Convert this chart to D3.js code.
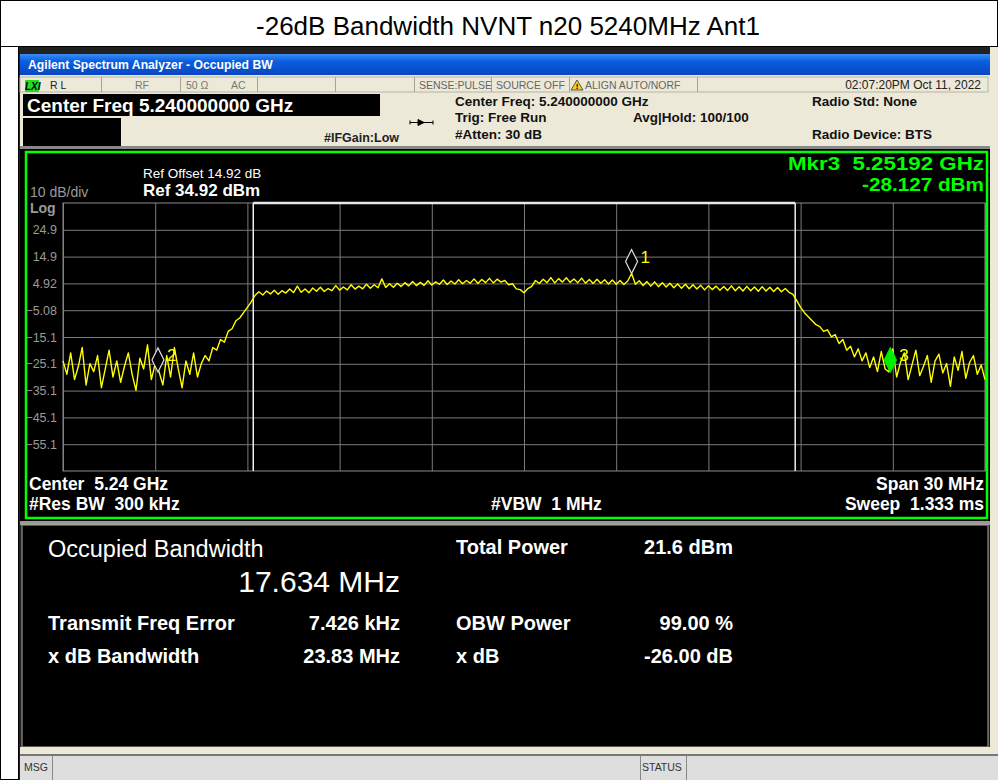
<!DOCTYPE html>
<html>
<head>
<meta charset="utf-8">
<script src="https://cdn.jsdelivr.net/npm/d3@7"></script>
<style>
  body { margin: 0; background: #fff; }
  text { font-family: "Liberation Sans", Arial, sans-serif; }
</style>
</head>
<body>
<svg id="chart" width="998" height="780"></svg>
<script>
const title = "-26dB Bandwidth NVNT n20 5240MHz Ant1";

// sweep settings (GHz / dBm)
const startFreq = 5.225, stopFreq = 5.255;
const refLevel = 34.92, dbPerDiv = 10, nDiv = 10;
const freqTicks = [5.225, 5.228, 5.231, 5.234, 5.237, 5.240, 5.243, 5.246, 5.249, 5.252, 5.255];
const levelTicks = [24.92, 14.92, 4.92, -5.08, -15.08, -25.08, -35.08, -45.08, -55.08];

// trace (dBm), 241 sweep points
const traceDbm = [
  -24, -29, -21, -31, -26, -19, -33, -25, -28, -22, -34, -27, -20, -30, -24, -32, -26, -21, -29, -35,
  -23, -27, -18, -31, -25, -28.1, -33, -22, -30, -19, -27, -34, -24, -29, -21, -30,
  -25, -22, -24, -19, -20, -16, -17, -13, -12, -9, -8, -6, -4, -2,
  0.5, 1.8, 0.6, 2.1, 1.0, 2.4, 0.9, 2.2, 1.3, 2.8,
  1.5, 3.9, 1.6, 2.8, 1.4, 3.2, 2.0, 3.5, 1.9, 3.0,
  2.2, 4.1, 2.4, 3.6, 2.5, 4.4, 2.8, 3.9, 2.9, 4.6,
  3.1, 4.4, 3.3, 6.6, 3.4, 4.8, 3.5, 5.0, 3.8, 5.2,
  4.0, 5.6, 4.1, 5.3, 4.2, 5.9, 4.3, 5.5, 4.6, 6.2,
  4.5, 5.8, 4.7, 6.3, 4.8, 6.0, 5.0, 6.6, 4.9, 6.4,
  5.2, 6.8, 5.1, 6.5, 5.4, 6.0, 4.4, 4.8, 2.9, 2.6,
  1.4, 3.0, 3.8, 6.0, 4.9, 6.5, 5.2, 7.1, 5.1, 6.7,
  5.4, 7.0, 5.3, 6.6, 5.2, 6.9, 5.0, 6.4, 4.9, 6.5,
  5.0, 6.3, 4.7, 6.2, 4.6, 6.0, 4.5, 5.8, 8.6, 4.6,
  5.9, 4.1, 5.6, 3.9, 5.5, 3.7, 5.2, 3.6, 5.0, 3.3,
  4.7, 3.1, 4.6, 2.9, 4.4, 2.8, 4.2, 2.5, 4.0, 2.6,
  3.9, 2.4, 3.8, 2.3, 4.0, 2.2, 3.7, 2.1, 3.8, 2.2,
  3.6, 2.0, 3.7, 2.1, 3.5, 1.9, 3.4, 1.8, 3.0, 1.6,
  0.8, -1.5, -4.0, -6.0, -7.5, -9.0, -10.5, -11.2, -13.0, -12.4,
  -15.0, -14.2, -17.5, -16.0, -20.0, -18.5, -22.5, -19.5, -24.0, -21.0,
  -26.5, -22.5, -28.0, -20.5, -27.0,
  -28.1, -19.5, -30.0, -24.5, -21.0, -31.0, -25.5, -20.0, -29.5, -26.0,
  -22.0, -32.0, -24.0, -21.5, -28.5, -25.0, -33.5, -22.5, -27.5, -20.5,
  -30.5, -24.5, -22.0, -29.0, -25.5, -31.0
];

// markers
const markerIds = ["1", "2", "3"];
const markerFreq = [5.2435, 5.22809, 5.25192];
const markerDbm = [8.6, -28.1, -28.127];
const activeMarker = "3";

// occupied bandwidth edges (GHz)
const obwEdges = [5.231190, 5.248824];

// result table
const resultLeftLabels = ["Transmit Freq Error", "x dB Bandwidth"];
const resultLeftValues = ["7.426 kHz", "23.83 MHz"];
const resultRightLabels = ["Total Power", "OBW Power", "x dB"];
const resultRightValues = ["21.6 dBm", "99.00 %", "-26.00 dB"];

const svg = d3.select("#chart");
const beige = "#ece9d8";

// ---------- page frame + title ----------
svg.append("rect").attr("x", 0.5).attr("y", 0.5).attr("width", 997).attr("height", 779)
  .attr("fill", "#fff").attr("stroke", "#000");
svg.append("line").attr("x1", 0).attr("x2", 998).attr("y1", 46.5).attr("y2", 46.5).attr("stroke", "#000");
svg.append("text").attr("x", 508).attr("y", 35).attr("text-anchor", "middle")
  .attr("font-size", 26).attr("fill", "#000").text(title);
svg.append("line").attr("x1", 18.5).attr("x2", 18.5).attr("y1", 46).attr("y2", 780).attr("stroke", "#000");

// ---------- analyzer window ----------
svg.append("rect").attr("x", 19).attr("y", 47).attr("width", 979).attr("height", 733).attr("fill", "#202020");
const grad = svg.append("defs").append("linearGradient").attr("id", "bar").attr("x1", 0).attr("x2", 0).attr("y1", 0).attr("y2", 1);
grad.append("stop").attr("offset", "0%").attr("stop-color", "#3a8cf5");
grad.append("stop").attr("offset", "35%").attr("stop-color", "#0a5fe0");
grad.append("stop").attr("offset", "100%").attr("stop-color", "#0845c0");
svg.append("rect").attr("x", 20).attr("y", 54).attr("width", 970).attr("height", 21).attr("fill", "url(#bar)");
svg.append("text").attr("x", 28).attr("y", 69).attr("font-size", 12.2).attr("font-weight", "bold")
  .attr("fill", "#fff").text("Agilent Spectrum Analyzer - Occupied BW");

svg.append("rect").attr("x", 20).attr("y", 75).attr("width", 970).attr("height", 73).attr("fill", beige);

// status row
const row1 = svg.append("g");
row1.append("rect").attr("x", 20).attr("y", 77).attr("width", 968).attr("height", 15).attr("fill", beige)
  .attr("stroke", "#b8b4a4");
[101, 180, 257, 335, 414, 491, 569, 697].forEach(x => {
  row1.append("line").attr("x1", x + 0.5).attr("x2", x + 0.5).attr("y1", 77).attr("y2", 92).attr("stroke", "#a8a494");
});
row1.append("rect").attr("x", 25).attr("y", 80).attr("width", 14).attr("height", 12).attr("fill", "#22dd22");
row1.append("text").attr("x", 25).attr("y", 90).attr("font-size", 10).attr("font-weight", "bold")
  .attr("font-style", "italic").attr("fill", "#000").text("LXI");
const smallGray = [["R L", 50, "#222"], ["RF", 135, "#777"], ["50 \u03a9", 186, "#777"], ["AC", 231, "#777"],
  ["SENSE:PULSE", 419, "#666"], ["SOURCE OFF", 496, "#666"], ["ALIGN AUTO/NORF", 585, "#666"]];
smallGray.forEach(([t, x, c]) => {
  row1.append("text").attr("x", x).attr("y", 89).attr("font-size", 10.5).attr("fill", c).text(t);
});
row1.append("path").attr("d", "M571,90 L577,80 L583,90 Z").attr("fill", "#f2d21a").attr("stroke", "#333").attr("stroke-width", 0.8);
row1.append("text").attr("x", 577).attr("y", 89).attr("font-size", 8).attr("font-weight", "bold")
  .attr("text-anchor", "middle").attr("fill", "#000").text("!");
row1.append("text").attr("x", 981).attr("y", 89).attr("text-anchor", "end").attr("font-size", 12)
  .attr("fill", "#222").text("02:07:20PM Oct 11, 2022");

// center freq boxes
svg.append("rect").attr("x", 23).attr("y", 94).attr("width", 357).attr("height", 22).attr("fill", "#000");
svg.append("text").attr("x", 27).attr("y", 112).attr("font-size", 19).attr("font-weight", "bold")
  .attr("fill", "#fff").text("Center Freq 5.240000000 GHz");
svg.append("rect").attr("x", 23).attr("y", 118).attr("width", 98).attr("height", 28).attr("fill", "#000");
svg.append("text").attr("x", 324).attr("y", 142).attr("font-size", 12.5).attr("font-weight", "bold")
  .attr("fill", "#222").text("#IFGain:Low");
svg.append("path").attr("d", "M410,122.5 H433 M418,119.5 L424,122.5 L418,125.5 Z M410,120.5 V124.5 M433,120.5 V124.5")
  .attr("stroke", "#000").attr("fill", "#000").attr("stroke-width", 1);
const infoTexts = [["Center Freq: 5.240000000 GHz", 455, 106], ["Trig: Free Run", 455, 122], ["#Atten: 30 dB", 455, 139],
  ["Avg|Hold: 100/100", 633, 122], ["Radio Std: None", 812, 106], ["Radio Device: BTS", 812, 139]];
infoTexts.forEach(([t, x, y]) => {
  svg.append("text").attr("x", x).attr("y", y).attr("font-size", 13.5).attr("font-weight", "bold")
    .attr("fill", "#111").text(t);
});
svg.append("rect").attr("x", 20).attr("y", 146).attr("width", 970).attr("height", 3).attr("fill", "#888");

// ---------- trace panel ----------
svg.append("rect").attr("x", 20).attr("y", 149).attr("width", 970).attr("height", 372).attr("fill", "#000");
svg.append("rect").attr("x", 26).attr("y", 152).attr("width", 961).attr("height", 366)
  .attr("fill", "none").attr("stroke", "#00ff00").attr("stroke-width", 2.5);

const plotL = 63, plotR = 985, plotT = 203, plotB = 471;
const x = d3.scaleLinear().domain([startFreq, stopFreq]).range([plotL, plotR]);
const y = d3.scaleLinear().domain([refLevel - nDiv * dbPerDiv, refLevel]).range([plotB, plotT]);

const grid = svg.append("g");
grid.append("g").attr("transform", `translate(0,${plotB})`)
  .call(d3.axisBottom(x).tickValues(freqTicks).tickSize(-(plotB - plotT)).tickFormat(""))
  .call(g => g.select(".domain").remove())
  .call(g => g.selectAll("line").attr("stroke", "#7a7a7a"));
grid.append("g").attr("transform", `translate(${plotL},0)`)
  .call(d3.axisLeft(y).tickValues(levelTicks).tickSize(-(plotR - plotL)).tickFormat(""))
  .call(g => g.select(".domain").remove())
  .call(g => g.selectAll("line").attr("stroke", "#7a7a7a"));
grid.append("rect").attr("x", plotL).attr("y", plotT).attr("width", plotR - plotL).attr("height", plotB - plotT)
  .attr("fill", "none").attr("stroke", "#8a8a8a");

// level labels
svg.append("g").attr("transform", `translate(${plotL},0)`)
  .call(d3.axisLeft(y).tickValues(levelTicks).tickSize(0).tickPadding(6).tickFormat(d3.format(".3")))
  .call(g => g.select(".domain").remove())
  .call(g => g.selectAll("text").attr("fill", "#9a9a9a").attr("font-size", 12.5)
    .attr("font-family", "Liberation Sans, Arial, sans-serif"));

// OBW edges
svg.selectAll(".obw").data(obwEdges).join("line").attr("class", "obw")
  .attr("x1", d => x(d)).attr("x2", d => x(d)).attr("y1", plotT).attr("y2", plotB)
  .attr("stroke", "#fff").attr("stroke-width", 1.4);
svg.append("line").attr("x1", x(obwEdges[0])).attr("x2", x(obwEdges[1])).attr("y1", plotT).attr("y2", plotT)
  .attr("stroke", "#e8e8e8").attr("stroke-width", 2.5);

// trace
const step = (stopFreq - startFreq) / (traceDbm.length - 1);
const line = d3.line().x((d, i) => x(startFreq + i * step)).y(d => y(d));
svg.append("path").datum(traceDbm).attr("d", line)
  .attr("fill", "none").attr("stroke", "#ffff00").attr("stroke-width", 1.4).attr("stroke-linejoin", "round");

// markers
const mk = svg.append("g");
markerIds.forEach((id, i) => {
  const mx = x(markerFreq[i]), my = y(markerDbm[i]);
  const active = id === activeMarker;
  mk.append("path").attr("d", `M${mx},${my} L${mx - 6},${my - 12} L${mx},${my - 24} L${mx + 6},${my - 12} Z`)
    .attr("fill", active ? "#00ee00" : "#000").attr("stroke", active ? "#00ee00" : "#e0e0e0").attr("stroke-width", 1.2);
  mk.append("text").attr("x", mx + 9).attr("y", my - 11).attr("font-size", 17).attr("fill", "#ffff00").text(id);
});

// panel annotations
svg.append("text").attr("x", 143).attr("y", 178).attr("font-size", 13.5).attr("fill", "#fff").text("Ref Offset 14.92 dB");
svg.append("text").attr("x", 143).attr("y", 196).attr("font-size", 17).attr("font-weight", "bold").attr("fill", "#fff").text("Ref 34.92 dBm");
svg.append("text").attr("x", 30).attr("y", 197).attr("font-size", 14).attr("fill", "#9a9a9a").text("10 dB/div");
svg.append("text").attr("x", 30).attr("y", 213).attr("font-size", 14).attr("font-weight", "bold").attr("fill", "#9a9a9a").text("Log");
svg.append("text").attr("x", 984).attr("y", 170).attr("text-anchor", "end").attr("font-size", 18).attr("font-weight", "bold")
  .attr("fill", "#00ff00").attr("xml:space", "preserve")
  .attr("textLength", 196).attr("lengthAdjust", "spacingAndGlyphs").text("Mkr3  5.25192 GHz");
svg.append("text").attr("x", 984).attr("y", 191).attr("text-anchor", "end").attr("font-size", 18).attr("font-weight", "bold")
  .attr("fill", "#00ff00").attr("textLength", 122).attr("lengthAdjust", "spacingAndGlyphs").text("-28.127 dBm");
const footer = [["Center  5.24 GHz", 29, 490, "start"], ["#Res BW  300 kHz", 29, 510, "start"],
  ["#VBW  1 MHz", 491, 510, "start"], ["Span 30 MHz", 984, 490, "end"], ["Sweep  1.333 ms", 984, 510, "end"]];
footer.forEach(([t, fx, fy, a]) => {
  svg.append("text").attr("x", fx).attr("y", fy).attr("text-anchor", a).attr("font-size", 17.5).attr("font-weight", "bold")
    .attr("fill", "#fff").attr("xml:space", "preserve").text(t);
});

// ---------- result panel ----------
svg.append("rect").attr("x", 20).attr("y", 521).attr("width", 970).attr("height", 4).attr("fill", "#9a9a9a");
svg.append("rect").attr("x", 22).attr("y", 525).attr("width", 966).attr("height", 222).attr("fill", "#000")
  .attr("stroke", "#b0ac9c").attr("stroke-width", 1);
svg.append("text").attr("x", 48).attr("y", 557).attr("font-size", 23.5).attr("fill", "#fff").text("Occupied Bandwidth");
svg.append("text").attr("x", 400).attr("y", 592).attr("text-anchor", "end").attr("font-size", 30).attr("fill", "#fff").text("17.634 MHz");
resultLeftLabels.forEach((t, i) => {
  svg.append("text").attr("x", 48).attr("y", 630 + i * 33).attr("font-size", 20).attr("font-weight", "bold").attr("fill", "#fff").text(t);
  svg.append("text").attr("x", 400).attr("y", 630 + i * 33).attr("text-anchor", "end").attr("font-size", 20)
    .attr("font-weight", "bold").attr("fill", "#fff").text(resultLeftValues[i]);
});
const rightY = [554, 630, 663];
resultRightLabels.forEach((t, i) => {
  svg.append("text").attr("x", 456).attr("y", rightY[i]).attr("font-size", 20).attr("font-weight", "bold").attr("fill", "#fff").text(t);
  svg.append("text").attr("x", 733).attr("y", rightY[i]).attr("text-anchor", "end").attr("font-size", 20)
    .attr("font-weight", "bold").attr("fill", "#fff").text(resultRightValues[i]);
});

// ---------- status bar ----------
svg.append("rect").attr("x", 20).attr("y", 747).attr("width", 970).attr("height", 7).attr("fill", beige);
svg.append("rect").attr("x", 20).attr("y", 754).attr("width", 978).attr("height", 26).attr("fill", "#dedede");
svg.append("line").attr("x1", 20).attr("x2", 998).attr("y1", 755).attr("y2", 755).attr("stroke", "#777").attr("stroke-width", 2);
[52, 640, 686].forEach(sx => {
  svg.append("line").attr("x1", sx + 0.5).attr("x2", sx + 0.5).attr("y1", 755).attr("y2", 780).attr("stroke", "#888");
});
svg.append("text").attr("x", 24).attr("y", 771).attr("font-size", 10.5).attr("fill", "#333").text("MSG");
svg.append("text").attr("x", 642).attr("y", 771).attr("font-size", 10.5).attr("fill", "#333").text("STATUS");
svg.append("rect").attr("x", 990).attr("y", 47).attr("width", 8).attr("height", 707).attr("fill", beige);
</script>
</body>
</html>
